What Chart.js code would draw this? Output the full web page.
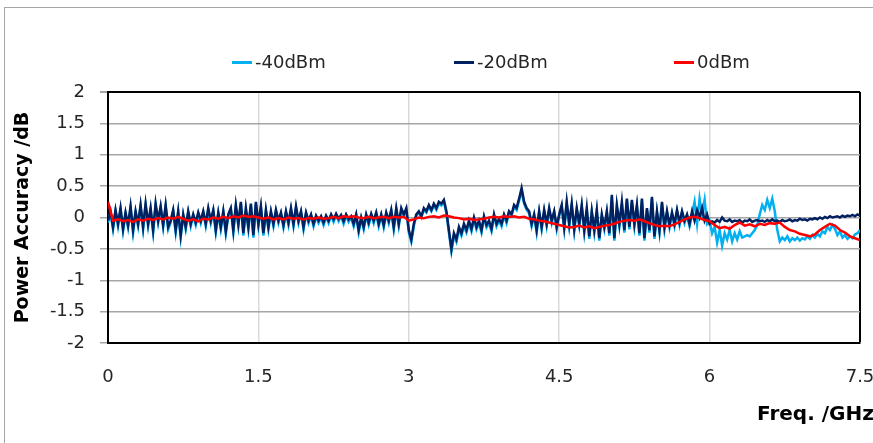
<!DOCTYPE html>
<html>
<head>
<meta charset="utf-8">
<script src="https://cdn.jsdelivr.net/npm/chart.js@4/dist/chart.umd.min.js"></script>
<style>
  html, body { margin: 0; padding: 0; background: #fff; overflow: hidden; width: 873px; height: 443px; }
  #frame { position: absolute; left: 4px; top: 7px; width: 900px; height: 460px; border: 1px solid #a6a6a6; box-sizing: content-box; }
  #chart { position: absolute; left: 0; top: 0; }
  #legend { position: absolute; top: 51px; left: 0; height: 22px; font: 18px "DejaVu Sans", sans-serif; color: #262626; }
  #legend .item { position: absolute; top: 0; white-space: nowrap; line-height: 22px; }
  #legend .mark { display: inline-block; width: 20px; height: 3px; vertical-align: middle; margin-right: 3px; position: relative; top: -1px; }
</style>
</head>
<body>
<div id="frame"><canvas id="chart" width="895" height="455"></canvas></div>
<div id="legend"></div>
<script>
// Frequency grids (GHz): the two noisier sweeps are sampled every 25 MHz, the 0 dBm sweep every 50 MHz
const FINE_STEP = 0.025;
const COARSE_STEP = 0.05;

const seriesNames = ['-40dBm', '-20dBm', '0dBm'];
const seriesColors = ['#00b0f0', '#002060', '#ff0000'];

const xTicks = [0, 1.5, 3, 4.5, 6, 7.5];
const yTicks = [2, 1.5, 1, 0.5, 0, -0.5, -1, -1.5, -2];

// Power accuracy error (dB) at -40 dBm input
const errMinus40 = [
  -0.08, 0.08, -0.19, 0.10, -0.14, 0.12, -0.22, 0.06, -0.16, 0.15,
  -0.24, 0.08, -0.14, 0.17, -0.19, 0.19, -0.14, 0.12, -0.24, 0.19,
  -0.09, 0.15, -0.16, 0.17, -0.19, -0.08, 0.10, -0.24, 0.08, -0.32,
  0.03, -0.19, 0.08, -0.14, 0.03, -0.12, 0.06, -0.09, 0.08, -0.14,
  0.12, -0.09, 0.10, -0.24, 0.06, -0.19, 0.08, -0.26, 0.03, 0.12,
  -0.24, 0.17, -0.14, 0.22, -0.29, 0.12, -0.19, 0.19, -0.32, 0.22,
  -0.14, 0.15, -0.29, 0.10, -0.19, 0.08, -0.14, 0.10, -0.09, 0.06,
  -0.16, 0.08, -0.12, 0.12, -0.14, 0.15, -0.09, 0.08, -0.19, 0.06,
  -0.09, 0.03, -0.14, 0.01, -0.09, 0.00, -0.12, 0.01, -0.09, 0.03,
  -0.07, 0.04, -0.06, 0.02, -0.10, 0.03, -0.07, 0.00, -0.14, 0.03,
  -0.24, -0.02, -0.19, 0.03, -0.12, 0.04, -0.09, 0.06, -0.14, 0.03,
  -0.16, 0.06, -0.09, 0.10, -0.19, 0.12, -0.14, 0.12, 0.03, 0.12,
  -0.24, -0.39, -0.14, 0.03, 0.08, 0.00, 0.12, 0.08, 0.17, 0.10,
  0.19, 0.12, 0.22, 0.19, 0.25, 0.07, -0.24, -0.54, -0.29, -0.39,
  -0.19, -0.29, -0.14, -0.24, -0.09, -0.22, -0.03, -0.19, -0.09, -0.24,
  0.00, -0.16, -0.09, -0.22, 0.03, -0.14, -0.05, -0.14, 0.03, -0.09,
  0.08, 0.03, 0.17, 0.12, 0.27, 0.42, 0.22, 0.12, 0.07, -0.14,
  0.03, -0.24, 0.08, -0.19, 0.10, -0.14, 0.12, -0.09, 0.08, -0.19,
  0.03, 0.17, -0.19, 0.22, -0.14, 0.19, -0.22, 0.12, -0.14, 0.17,
  -0.24, 0.12, -0.34, 0.08, -0.24, 0.10, -0.37, 0.03, -0.19, 0.08,
  -0.29, 0.32, -0.37, 0.17, -0.14, 0.22, -0.24, 0.27, -0.19, 0.25,
  -0.14, 0.17, -0.29, 0.27, -0.37, 0.12, -0.24, 0.30, -0.34, 0.08,
  -0.24, 0.22, -0.19, 0.08, -0.16, 0.06, -0.14, 0.10, -0.12, 0.08,
  -0.09, 0.03, -0.14, 0.05, 0.25, -0.10, 0.30, 0.05, 0.28, -0.10,
  -0.05, -0.25, -0.15, -0.40, -0.20, -0.45, -0.25, -0.35, -0.20, -0.38,
  -0.25, -0.35, -0.22, -0.32, -0.30, -0.28, -0.30, -0.25, -0.20, -0.12,
  0.05, 0.20, 0.12, 0.28, 0.15, 0.30, 0.10, -0.20, -0.38, -0.32,
  -0.36, -0.30, -0.38, -0.33, -0.36, -0.32, -0.37, -0.33, -0.35, -0.30,
  -0.34, -0.28, -0.32, -0.26, -0.30, -0.22, -0.25, -0.15, -0.20, -0.12,
  -0.18, -0.28, -0.22, -0.32, -0.28, -0.34, -0.30, -0.33, -0.27, -0.25,
  -0.20
];

// Power accuracy error (dB) at -20 dBm input
const errMinus20 = [
  -0.05, 0.10, -0.15, 0.12, -0.10, 0.15, -0.18, 0.08, -0.12, 0.18,
  -0.20, 0.10, -0.10, 0.20, -0.15, 0.22, -0.10, 0.15, -0.20, 0.22,
  -0.05, 0.18, -0.12, 0.20, -0.15, -0.05, 0.12, -0.20, 0.10, -0.28,
  0.05, -0.15, 0.10, -0.10, 0.05, -0.08, 0.08, -0.05, 0.10, -0.10,
  0.15, -0.05, 0.12, -0.20, 0.08, -0.15, 0.10, -0.22, 0.05, 0.15,
  -0.20, 0.20, -0.10, 0.25, -0.25, 0.15, -0.15, 0.22, -0.28, 0.25,
  -0.10, 0.18, -0.25, 0.12, -0.15, 0.10, -0.10, 0.12, -0.05, 0.08,
  -0.12, 0.10, -0.08, 0.15, -0.10, 0.18, -0.05, 0.10, -0.15, 0.08,
  -0.05, 0.05, -0.10, 0.03, -0.05, 0.02, -0.08, 0.03, -0.05, 0.05,
  -0.03, 0.06, -0.02, 0.04, -0.06, 0.05, -0.03, 0.02, -0.10, 0.05,
  -0.20, 0.00, -0.15, 0.05, -0.08, 0.06, -0.05, 0.08, -0.10, 0.05,
  -0.12, 0.08, -0.05, 0.12, -0.15, 0.15, -0.10, 0.15, 0.05, 0.15,
  -0.20, -0.35, -0.10, 0.05, 0.10, 0.02, 0.15, 0.10, 0.20, 0.12,
  0.22, 0.15, 0.25, 0.22, 0.28, 0.10, -0.20, -0.50, -0.25, -0.35,
  -0.15, -0.25, -0.10, -0.20, -0.05, -0.18, 0.00, -0.15, -0.05, -0.20,
  0.02, -0.12, -0.05, -0.18, 0.05, -0.10, -0.02, -0.10, 0.05, -0.05,
  0.10, 0.05, 0.20, 0.15, 0.30, 0.47, 0.25, 0.15, 0.10, -0.10,
  0.05, -0.20, 0.10, -0.15, 0.12, -0.10, 0.15, -0.05, 0.10, -0.15,
  0.05, 0.20, -0.15, 0.25, -0.10, 0.22, -0.18, 0.15, -0.10, 0.20,
  -0.20, 0.15, -0.30, 0.10, -0.20, 0.12, -0.33, 0.05, -0.15, 0.10,
  -0.25, 0.36, -0.33, 0.20, -0.10, 0.25, -0.20, 0.30, -0.15, 0.28,
  -0.10, 0.20, -0.25, 0.30, -0.33, 0.15, -0.20, 0.33, -0.30, 0.10,
  -0.20, 0.25, -0.15, 0.10, -0.12, 0.08, -0.10, 0.12, -0.08, 0.10,
  -0.05, 0.05, -0.10, 0.10, -0.05, 0.12, 0.00, 0.15, -0.05, 0.05,
  -0.10, -0.06, -0.08, -0.04, -0.07, 0.00, -0.05, -0.06, -0.03, -0.07,
  -0.05, -0.06, -0.04, -0.08, -0.05, -0.06, -0.03, -0.07, -0.05, -0.04,
  -0.06, -0.05, -0.07, -0.04, -0.06, -0.03, -0.06, -0.05, -0.07, -0.04,
  -0.06, -0.05, -0.03, -0.06, -0.04, -0.05, -0.02, -0.04, -0.03, -0.05,
  -0.02, -0.03, -0.01, -0.03, 0.00, -0.02, 0.01, -0.01, 0.02, 0.00,
  0.01, 0.02, 0.00, 0.03, 0.01, 0.03, 0.02, 0.04, 0.02, 0.05,
  0.03
];

// Power accuracy error (dB) at 0 dBm input
const err0 = [
  0.25, -0.05, -0.03, -0.06, -0.04, -0.07, -0.03, -0.05, -0.02, -0.04,
  -0.01, -0.03, 0.00, -0.02, 0.01, -0.02, -0.05, -0.03, -0.06, -0.02,
  -0.03, 0.00, -0.02, 0.01, -0.01, 0.02, 0.00, 0.03, 0.01, 0.02,
  0.00, -0.02, 0.00, -0.03, -0.01, -0.03, 0.00, -0.02, -0.01, -0.03,
  -0.01, -0.02, 0.00, -0.02, -0.01, 0.01, -0.01, 0.02, 0.01, 0.02,
  0.00, -0.01, 0.01, -0.01, 0.00, 0.01, -0.01, 0.01, 0.00, 0.01,
  -0.05, -0.03, 0.00, -0.01, 0.01, 0.02, 0.00, 0.03, 0.02, 0.00,
  -0.01, -0.03, -0.02, -0.04, -0.03, -0.02, 0.00, 0.01, 0.00, 0.02,
  0.01, 0.02, 0.00, 0.01, -0.02, -0.03, -0.05, -0.06, -0.08, -0.10,
  -0.12, -0.14, -0.16, -0.15, -0.13, -0.16, -0.14, -0.17, -0.15, -0.13,
  -0.12, -0.10, -0.07, -0.05, -0.04, -0.05, -0.03, -0.06, -0.09, -0.12,
  -0.14, -0.13, -0.14, -0.11, -0.07, -0.03, 0.00, 0.01, -0.01, -0.04,
  -0.06, -0.12, -0.17, -0.15, -0.18, -0.12, -0.08, -0.13, -0.11, -0.14,
  -0.10, -0.12, -0.09, -0.10, -0.08, -0.15, -0.20, -0.22, -0.26, -0.28,
  -0.30, -0.27, -0.20, -0.15, -0.10, -0.13, -0.20, -0.24, -0.30, -0.33,
  -0.36
];

function toPoints(values, step) {
  return values.map((v, i) => ({ x: +(i * step).toFixed(3), y: v }));
}

const seriesValues = [errMinus40, errMinus20, err0];
const seriesSteps = [FINE_STEP, FINE_STEP, COARSE_STEP];
// -40 dBm sits underneath, 0 dBm is drawn on top
const seriesOrder = [3, 2, 1];

const datasets = seriesNames.map((name, k) => ({
  label: name,
  data: toPoints(seriesValues[k], seriesSteps[k]),
  borderColor: seriesColors[k],
  backgroundColor: seriesColors[k],
  borderWidth: 2.5,
  pointRadius: 0,
  tension: 0,
  fill: false,
  order: seriesOrder[k]
}));

const tickFont = { family: '"DejaVu Sans", sans-serif', size: 18 };
const edgeY = [yTicks[0], yTicks[yTicks.length - 1]];
const plainNumber = v => String(v);

// x-axis caption, placed to the lower right of the plot
const xCaption = {
  id: 'xCaption',
  afterDraw(chart) {
    const { ctx, chartArea } = chart;
    ctx.save();
    ctx.font = 'bold 20px "DejaVu Sans", sans-serif';
    ctx.fillStyle = '#000';
    ctx.textAlign = 'left';
    ctx.textBaseline = 'middle';
    ctx.fillText('Freq. /GHz', chartArea.right - 103, chartArea.bottom + 72);
    ctx.restore();
  }
};

const chart = new Chart(document.getElementById('chart'), {
  type: 'line',
  data: { datasets },
  plugins: [xCaption],
  options: {
    responsive: false,
    animation: false,
    events: [],
    layout: { padding: { top: 84, right: 40, bottom: 0, left: 0 } },
    plugins: { legend: { display: false }, tooltip: { enabled: false } },
    scales: {
      x: {
        type: 'linear',
        min: xTicks[0],
        max: xTicks[xTicks.length - 1],
        afterBuildTicks: s => { s.ticks = xTicks.map(v => ({ value: v })); },
        afterFit: s => { s.height = 120; },
        ticks: { font: tickFont, color: '#262626', padding: 24, maxRotation: 0, callback: plainNumber },
        grid: {
          drawTicks: false,
          color: c => (c.tick && c.tick.value === xTicks[xTicks.length - 1]) ? '#000' : '#d9d9d9',
          lineWidth: c => (c.tick && c.tick.value === xTicks[xTicks.length - 1]) ? 2 : 1.5
        },
        border: { color: '#000', width: 2 }
      },
      y: {
        min: edgeY[1],
        max: edgeY[0],
        afterBuildTicks: s => { s.ticks = yTicks.slice().reverse().map(v => ({ value: v })); },
        afterFit: s => { s.width = 103; },
        ticks: { font: tickFont, color: '#262626', padding: 15, callback: plainNumber },
        grid: {
          tickLength: 8,
          tickColor: '#a6a6a6',
          color: c => (c.tick && c.tick.value === edgeY[0]) ? '#000' : '#a6a6a6',
          lineWidth: c => (c.tick && c.tick.value === edgeY[0]) ? 2 : 1.5
        },
        border: { color: '#000', width: 2 },
        title: {
          display: true,
          text: 'Power Accuracy /dB',
          color: '#000',
          font: { family: '"DejaVu Sans", sans-serif', size: 19, weight: 'bold' },
          padding: { top: 7, bottom: 0 }
        }
      }
    }
  }
});

// legend row built from the chart's own datasets
const legendPos = [232, 454, 674];
const legendEl = document.getElementById('legend');
chart.data.datasets.forEach((ds, k) => {
  const item = document.createElement('div');
  item.className = 'item';
  item.style.left = legendPos[k] + 'px';
  const mark = document.createElement('span');
  mark.className = 'mark';
  mark.style.background = ds.borderColor;
  item.appendChild(mark);
  item.appendChild(document.createTextNode(ds.label));
  legendEl.appendChild(item);
});
</script>
</body>
</html>
